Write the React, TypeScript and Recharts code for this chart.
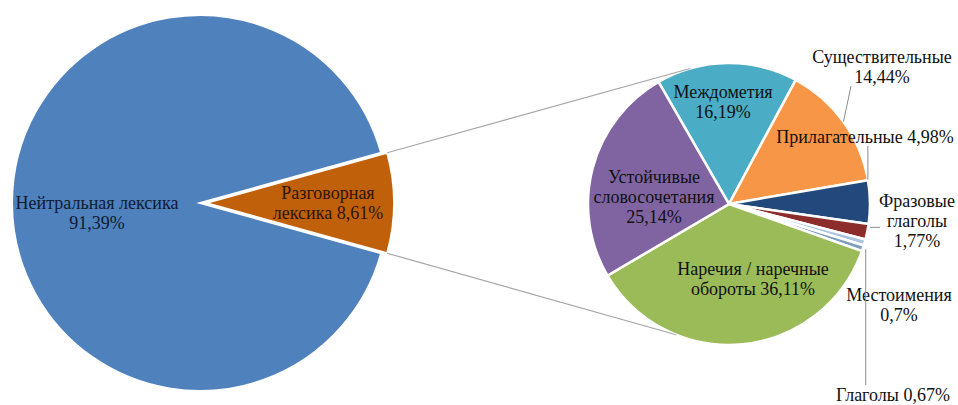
import React from 'react';
import { PieChart, Pie, Cell } from 'recharts';

// ---------- data ----------
const mainNames = ['Разговорная лексика', 'Нейтральная лексика'];
const mainValues = [8.61, 91.39];

const subNames = [
  'Междометия',
  'Существительные',
  'Прилагательные',
  'Фразовые глаголы',
  'Местоимения',
  'Глаголы',
  'Наречия / наречные обороты',
  'Устойчивые словосочетания',
];
const subValues = [16.19, 14.44, 4.98, 1.77, 0.7, 0.67, 36.11, 25.14];

// ---------- styles / layout ----------
const W = 958;
const H = 405;
const FONT = '"Liberation Serif"';
const FS = 18;
const LH = 20;

const MAIN = { cx: 200, cy: 203, r: 188, explode: 6 };
const SUB = { cx: 729, cy: 204, r: 141, start: 120 };
const CONNECT_ANGLES = [106, 248];

const mainColors: Record<string, string> = {
  'Разговорная лексика': '#C0600B',
  'Нейтральная лексика': '#4F81BD',
};
const subColors: Record<string, string> = {
  'Междометия': '#4BACC6',
  'Существительные': '#F79646',
  'Прилагательные': '#23497C',
  'Фразовые глаголы': '#8C2C2B',
  'Местоимения': '#A9C4DE',
  'Глаголы': '#7E9CBB',
  'Наречия / наречные обороты': '#9BBB59',
  'Устойчивые словосочетания': '#8064A2',
};

type Leader = { angleOffset: number; radiusAdd: number; endX?: number; endY?: number; mode: 'free' | 'vertical' | 'horizontal' };
type LabelLayout = { x: number; y: number; lines: string[]; color: string; leader?: Leader };

const labelLayout: Record<string, LabelLayout> = {
  'Нейтральная лексика': { x: 97, y: 203, lines: ['Нейтральная лексика', '{v}'], color: '#0E1B33' },
  'Разговорная лексика': { x: 328, y: 193, lines: ['Разговорная', 'лексика {v}'], color: '#2E1503' },
  'Междометия': { x: 723, y: 92, lines: ['Междометия', '{v}'], color: '#111' },
  'Существительные': {
    x: 882, y: 57, lines: ['Существительные', '{v}'], color: '#111',
    leader: { angleOffset: 0, radiusAdd: 0, endX: 851, endY: 86, mode: 'free' },
  },
  'Прилагательные': {
    x: 865, y: 137, lines: ['Прилагательные {v}'], color: '#111',
    leader: { angleOffset: 9.2, radiusAdd: 0, endY: 146, mode: 'vertical' },
  },
  'Фразовые глаголы': {
    x: 917, y: 201, lines: ['Фразовые', 'глаголы', '{v}'], color: '#111',
    leader: { angleOffset: 2, radiusAdd: 2, endX: 880, mode: 'horizontal' },
  },
  'Местоимения': { x: 899, y: 295, lines: ['Местоимения', '{v}'], color: '#111' },
  'Глаголы': {
    x: 893, y: 395, lines: ['Глаголы {v}'], color: '#111',
    leader: { angleOffset: 0, radiusAdd: 3, endY: 385, mode: 'vertical' },
  },
  'Наречия / наречные обороты': { x: 753, y: 269, lines: ['Наречия / наречные', 'обороты {v}'], color: '#111' },
  'Устойчивые словосочетания': { x: 654, y: 177, lines: ['Устойчивые', 'словосочетания', '{v}'], color: '#111' },
};

// ---------- helpers ----------
const RAD = Math.PI / 180;
const polar = (cx: number, cy: number, r: number, angle: number) => ({
  x: cx + r * Math.cos(angle * RAD),
  y: cy - r * Math.sin(angle * RAD),
});
const pct = (v: number) => `${String(v).replace('.', ',')}%`;

const mainData = mainNames.map((name, i) => ({ name, value: mainValues[i] }));
const subData = subNames.map((name, i) => ({ name, value: subValues[i] }));

const mainTotal = mainValues.reduce((a, b) => a + b, 0);
const mainStart = ((mainValues[0] / mainTotal) * 360) / 2;
const explodeMid = mainStart - ((mainValues[0] / mainTotal) * 360) / 2;

const LabelText = ({ name, value }: { name: string; value: number }) => {
  const L = labelLayout[name];
  if (!L) return null;
  return (
    <g>
      {L.lines.map((ln, i) => (
        <text
          key={i}
          x={L.x}
          y={L.y + i * LH}
          textAnchor="middle"
          dominantBaseline="central"
          style={{ fontFamily: FONT, fontSize: FS }}
          fill={L.color}
        >
          {ln.replace('{v}', pct(value))}
        </text>
      ))}
    </g>
  );
};

const renderSubLabel = (props: any) => {
  const { name, value, cx, cy, outerRadius, midAngle } = props;
  const L = labelLayout[name];
  if (!L) return null;
  let leader = null;
  if (L.leader) {
    const p = polar(cx, cy, outerRadius + L.leader.radiusAdd, midAngle + L.leader.angleOffset);
    let ex = p.x;
    let ey = p.y;
    if (L.leader.mode === 'free') {
      ex = L.leader.endX as number;
      ey = L.leader.endY as number;
    } else if (L.leader.mode === 'vertical') {
      ey = L.leader.endY as number;
    } else {
      ex = L.leader.endX as number;
    }
    leader = <line x1={p.x} y1={p.y} x2={ex} y2={ey} stroke="#8C8C8C" strokeWidth={1} />;
  }
  return (
    <g key={`sl-${name}`}>
      {leader}
      <LabelText name={name} value={value} />
    </g>
  );
};

const renderNeutralLabel = (props: any) => {
  const { name, value } = props;
  if (name !== mainNames[1]) return null;
  return <LabelText key="nl" name={name} value={value} />;
};

const renderSplitLabel = (props: any) => {
  const { name, value, cx, cy, outerRadius, startAngle, endAngle } = props;
  if (name !== mainNames[0]) return null;
  const a = polar(cx, cy, outerRadius, startAngle);
  const b = polar(cx, cy, outerRadius, endAngle);
  const ta = polar(SUB.cx, SUB.cy, SUB.r, CONNECT_ANGLES[0]);
  const tb = polar(SUB.cx, SUB.cy, SUB.r, CONNECT_ANGLES[1]);
  return (
    <g key="spl">
      <line x1={a.x} y1={a.y} x2={ta.x} y2={ta.y} stroke="#A6A6A6" strokeWidth={1.2} />
      <line x1={b.x} y1={b.y} x2={tb.x} y2={tb.y} stroke="#A6A6A6" strokeWidth={1.2} />
      <LabelText name={name} value={value} />
    </g>
  );
};

export default function App() {
  const ex = polar(MAIN.cx, MAIN.cy, MAIN.explode, explodeMid);
  return (
    <div style={{ position: 'absolute', left: 0, top: 0, width: W, height: H, background: '#fff' }}>
      <PieChart width={W} height={H} margin={{ top: 0, right: 0, bottom: 0, left: 0 }}>
        <Pie
          data={mainData}
          dataKey="value"
          nameKey="name"
          cx={MAIN.cx}
          cy={MAIN.cy}
          outerRadius={MAIN.r}
          startAngle={mainStart}
          endAngle={mainStart - 360}
          stroke="#fff"
          strokeWidth={2}
          isAnimationActive={false}
          labelLine={false}
          label={renderNeutralLabel}
        >
          {mainData.map((d, i) => (
            <Cell
              key={i}
              fill={i === 0 ? 'none' : mainColors[d.name]}
              stroke={i === 0 ? 'none' : '#fff'}
            />
          ))}
        </Pie>
        <Pie
          data={mainData}
          dataKey="value"
          nameKey="name"
          cx={ex.x}
          cy={ex.y}
          outerRadius={MAIN.r}
          startAngle={mainStart}
          endAngle={mainStart - 360}
          stroke="#fff"
          strokeWidth={2}
          isAnimationActive={false}
          labelLine={false}
          label={renderSplitLabel}
        >
          {mainData.map((d, i) => (
            <Cell
              key={i}
              fill={i === 0 ? mainColors[d.name] : 'none'}
              stroke={i === 0 ? '#fff' : 'none'}
            />
          ))}
        </Pie>
        <Pie
          data={subData}
          dataKey="value"
          nameKey="name"
          cx={SUB.cx}
          cy={SUB.cy}
          outerRadius={SUB.r}
          startAngle={SUB.start}
          endAngle={SUB.start - 360}
          stroke="#fff"
          strokeWidth={2.5}
          isAnimationActive={false}
          labelLine={false}
          label={renderSubLabel}
        >
          {subData.map((d, i) => (
            <Cell key={i} fill={subColors[d.name]} />
          ))}
        </Pie>
      </PieChart>
    </div>
  );
}
